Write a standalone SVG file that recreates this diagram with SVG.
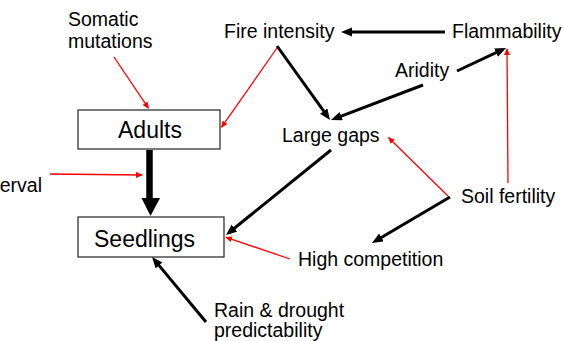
<svg xmlns="http://www.w3.org/2000/svg" width="564" height="341" viewBox="0 0 564 341">
<style>
  text { font-family: "Liberation Sans", Arial, sans-serif; fill: #000; }
  .lbl { font-size: 19.5px; }
  .box { font-size: 23px; }
  .boxr { fill: #fff; stroke: #222; stroke-width: 1.2; }
  .blk { stroke: #000; stroke-width: 3; fill: none; marker-end: url(#hb); }
  .red { stroke: #f00; stroke-width: 1.3; fill: none; marker-end: url(#hr); }
</style>
<defs>
  <marker id="hb" markerUnits="userSpaceOnUse" markerWidth="12" markerHeight="10" refX="7" refY="4.5" orient="auto">
    <path d="M0,0 L11,4.5 L0,9 z" fill="#000"/>
  </marker>
  <marker id="hr" markerUnits="userSpaceOnUse" markerWidth="8" markerHeight="7" refX="6" refY="3" orient="auto">
    <path d="M0,0 L7,3 L0,6 z" fill="#f00"/>
  </marker>
</defs>
<rect width="564" height="341" fill="#fff"/>

<g id="connectors">
  <line class="blk" x1="445" y1="32" x2="345" y2="32"/>
  <line class="blk" x1="457" y1="71" x2="502.4" y2="49.7"/>
  <line class="blk" x1="423" y1="85" x2="334.7" y2="118.6"/>
  <line class="blk" x1="277" y1="46" x2="327.7" y2="116.7"/>
  <line class="blk" x1="331" y1="150" x2="229.1" y2="232.5"/>
  <line class="blk" x1="450" y1="197" x2="375.4" y2="241"/>
  <line class="blk" x1="206" y1="322" x2="154.6" y2="260.1"/>
  <line x1="149.5" y1="150" x2="149.5" y2="200" stroke="#000" stroke-width="6.5"/>
  <polygon points="141.5,198 160,198 150.5,216" fill="#000"/>
  <line class="red" x1="114" y1="57" x2="148.4" y2="108.2"/>
  <line class="red" x1="277" y1="48" x2="221.6" y2="127.2"/>
  <line class="red" x1="50" y1="174" x2="142" y2="175"/>
  <line class="red" x1="448" y1="196" x2="388.7" y2="137.7"/>
  <line class="red" x1="508" y1="183" x2="507" y2="49"/>
  <line class="red" x1="290" y1="259" x2="226" y2="237.3"/>
</g>

<g id="adults">
  <rect class="boxr" x="78" y="110" width="142" height="39"/>
  <text class="box" x="150" y="138" text-anchor="middle">Adults</text>
</g>
<g id="seedlings">
  <rect class="boxr" x="78" y="217" width="146" height="40"/>
  <text class="box" x="94" y="247">Seedlings</text>
</g>
<g id="somatic">
  <text class="lbl" x="68" y="26">Somatic</text>
  <text class="lbl" x="68" y="48">mutations</text>
</g>
<g id="fire-intensity">
  <text class="lbl" x="224" y="38">Fire intensity</text>
</g>
<g id="flammability">
  <text class="lbl" x="452" y="38">Flammability</text>
</g>
<g id="aridity">
  <text class="lbl" x="395" y="77">Aridity</text>
</g>
<g id="large-gaps">
  <text class="lbl" x="282" y="142">Large gaps</text>
</g>
<g id="soil-fertility">
  <text class="lbl" x="461" y="203">Soil fertility</text>
</g>
<g id="high-competition">
  <text class="lbl" x="298" y="266">High competition</text>
</g>
<g id="rain">
  <text class="lbl" x="214" y="317">Rain &amp; drought</text>
  <text class="lbl" x="214" y="337">predictability</text>
</g>
<g id="interval">
  <text class="lbl" x="42" y="192" text-anchor="end">erval</text>
</g>
</svg>
